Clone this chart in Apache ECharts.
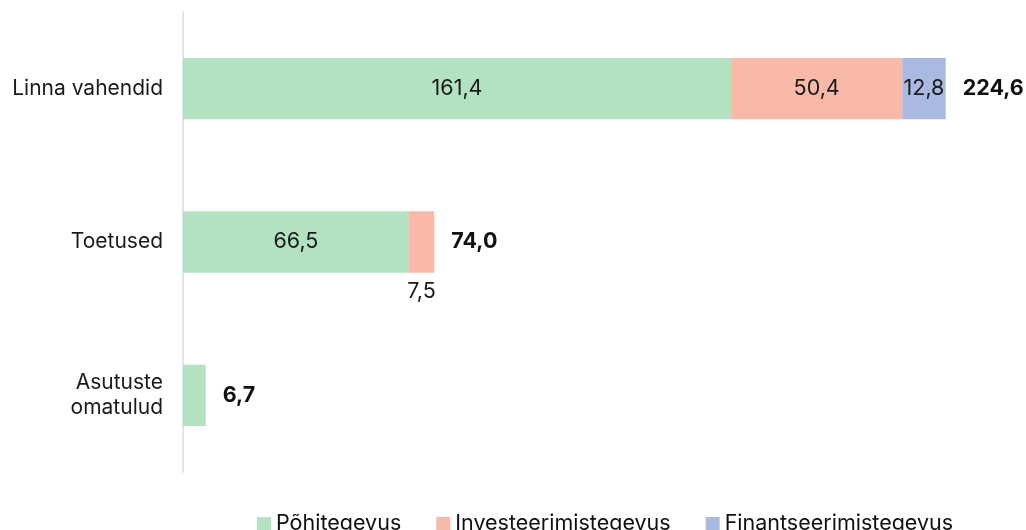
<!DOCTYPE html>
<html><head><meta charset="utf-8">
<script src="https://cdn.jsdelivr.net/npm/echarts@6/dist/echarts.min.js"></script>
<style>html,body{margin:0;padding:0;background:#fff}#c{width:1026px;height:530px}</style>
</head><body><div id="c"></div>
<script>
const categories = ['Linna vahendid', 'Toetused', 'Asutuste\nomatulud'];
const seriesNames = ['Põhitegevus', 'Investeerimistegevus', 'Finantseerimistegevus'];
const pohitegevus = [161.4, 66.5, 6.7];
const investeerimine = [50.4, 7.5, 0];
const finantseerimine = [12.8, 0, 0];
const totals = [224.6, 74.0, 6.7];
const colors = ['#b3e2c0', '#f8b9a8', '#aab9e1'];

const fmt = v => v.toFixed(1).replace('.', ',');
const font = 'Inter, "Noto Sans", sans-serif';

function segData(arr, isFirst) {
  return arr.map(v => {
    if (v === 0) return { value: 0, label: { show: false } };
    if (v < 10) {
      if (isFirst) return { value: v, label: { show: false } };
      return { value: v, label: { show: true, position: 'bottom', distance: 8 } };
    }
    return { value: v };
  });
}

const chart = echarts.init(document.getElementById('c'), null, { renderer: 'canvas' });
const series = [pohitegevus, investeerimine, finantseerimine].map((arr, i) => ({
  name: seriesNames[i], type: 'bar', stack: 's', barWidth: '40%',
  itemStyle: { color: colors[i] },
  label: { show: true, position: 'inside', fontFamily: font, fontSize: 21.5, color: '#1a1a1a', formatter: p => fmt(p.value) },
  data: segData(arr, i === 0)
}));
series.push({
  name: 'total', type: 'bar', stack: 's', barWidth: '40%',
  itemStyle: { color: 'transparent' },
  label: { show: true, position: 'right', distance: 17, fontFamily: font, fontSize: 21.5, fontWeight: 'bold', color: '#111',
    formatter: p => fmt(totals[p.dataIndex]) },
  data: totals.map(() => 0)
});

chart.setOption({
  animation: false,
  grid: { left: 183, right: 28, top: 12, bottom: 58 },
  xAxis: { type: 'value', min: 0, max: 240, show: false },
  yAxis: { type: 'category', inverse: true, data: categories,
    axisLine: { show: true, lineStyle: { color: '#e0e3f2', width: 2 } },
    axisTick: { show: false },
    axisLabel: { fontFamily: font, fontSize: 21, color: '#1a1a1a', margin: 20, align: 'right', lineHeight: 25 } },
  legend: { data: seriesNames, bottom: -10, left: 252, icon: 'rect', itemWidth: 14, itemHeight: 14, itemGap: 35,
    textStyle: { fontFamily: font, fontSize: 21.5, color: '#111' } },
  series
});
</script></body></html>
